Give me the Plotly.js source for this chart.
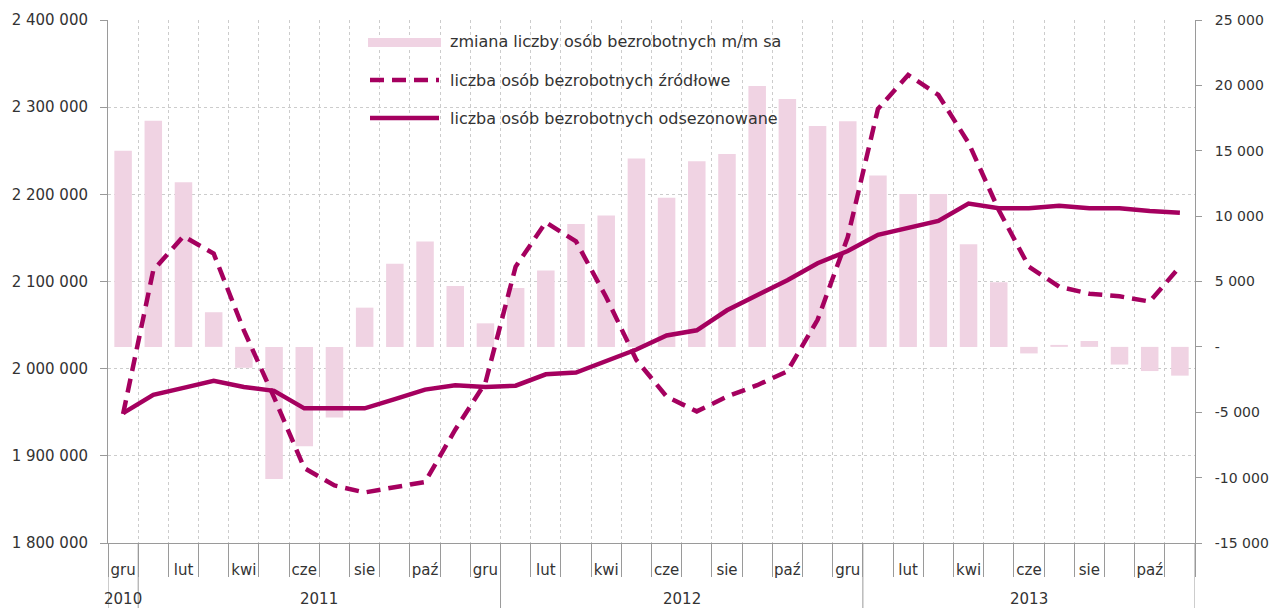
<!DOCTYPE html>
<html>
<head>
<meta charset="utf-8">
<script src="https://cdn.plot.ly/plotly-3.0.1.min.js"></script>
<style>html,body{margin:0;padding:0;background:#fff;}#chart{width:1273px;height:608px;}</style>
</head>
<body>
<div id="chart"></div>
<script>
// ---- DATA ----
var months = ['gru','sty','lut','mar','kwi','maj','cze','lip','sie','wrz','paź','lis',
              'gru','sty','lut','mar','kwi','maj','cze','lip','sie','wrz','paź','lis',
              'gru','sty','lut','mar','kwi','maj','cze','lip','sie','wrz','paź','lis'];
var years = [2010,2011,2011,2011,2011,2011,2011,2011,2011,2011,2011,2011,
             2011,2012,2012,2012,2012,2012,2012,2012,2012,2012,2012,2012,
             2012,2013,2013,2013,2013,2013,2013,2013,2013,2013,2013,2013];
var changeMoM = [15000,17300,12600,2650,-1600,-10100,-7600,-5400,3000,6350,8050,4650,
                 1800,4500,5850,9400,10050,14400,11400,14200,14750,19950,18950,16900,
                 17250,13100,11700,11700,7850,4950,-500,150,450,-1350,-1850,-2200];
var unemployedRaw = [1948000,2113000,2152000,2132000,2044000,1967000,1886000,1866000,1858000,1864000,1870000,1930000,
                     1984000,2117000,2168000,2146000,2082000,2010000,1968000,1951000,1968000,1981000,1997000,2056000,
                     2151000,2298000,2337000,2314000,2259000,2182000,2117000,2094000,2086000,2083000,2077000,2117000];
var unemployedSA = [1949000,1970000,1978000,1986000,1979000,1974500,1954500,1954500,1954500,1965000,1976000,1981000,
                    1979000,1980500,1993500,1995500,2009000,2022000,2038000,2044000,2067000,2084000,2101500,2121000,
                    2135000,2153500,2161500,2169500,2189500,2184000,2184000,2187000,2184000,2184000,2181000,2179000];
var seriesNames = ['zmiana liczby osób bezrobotnych m/m sa',
                   'liczba osób bezrobotnych źródłowe',
                   'liczba osób bezrobotnych odsezonowane'];
var leftTicks = [1800000,1900000,2000000,2100000,2200000,2300000,2400000];
var leftTickText = ['1 800 000','1 900 000','2 000 000','2 100 000','2 200 000','2 300 000','2 400 000'];
var rightTicks = [-15000,-10000,-5000,0,5000,10000,15000,20000,25000];
var rightTickText = ['-15 000','-10 000','-5 000','-','5 000','10 000','15 000','20 000','25 000'];

// ---- BUILD ----
var idx = months.map(function(_, i){ return i; });
var lineColor = '#A5005F';
var barColor = '#F0D3E3';
var axisColor = '#9a9a9a';
var gridColor = '#cccccc';
var textColor = '#333333';
var font = {family: 'DejaVu Sans, Verdana, sans-serif', size: 15, color: textColor};
var rightFont = {family: 'DejaVu Sans, Verdana, sans-serif', size: 14, color: textColor};
var legendFont = {family: 'DejaVu Sans, Verdana, sans-serif', size: 16, color: textColor};

var traces = [
  {type:'bar', x: idx, y: changeMoM, name: seriesNames[0], marker:{color: barColor}, width: 0.58,
   xaxis:'x', yaxis:'y', hoverinfo:'skip'},
  {type:'scatter', mode:'lines', x: idx, y: unemployedRaw, name: seriesNames[1],
   line:{color: lineColor, width: 4.5, dash:'14px,8px'}, xaxis:'x', yaxis:'y2'},
  {type:'scatter', mode:'lines', x: idx, y: unemployedSA, name: seriesNames[2],
   line:{color: lineColor, width: 4.5}, xaxis:'x', yaxis:'y2'}
];

// month labels every other month
var labVals = [], labText = [];
idx.forEach(function(i){ if (i % 2 === 0) { labVals.push(i); labText.push(months[i]); } });

// year groups
var yearGroups = [];
years.forEach(function(y, i){
  var g = yearGroups[yearGroups.length-1];
  if (!g || g.year !== y) { yearGroups.push({year:y, first:i, last:i}); }
  else g.last = i;
});

var plotH = 608 - 20 - 65;
var bottomDepth = -65 / plotH;

var shapes = [];
var annotations = [];
yearGroups.forEach(function(g, k){
  shapes.push({type:'line', xref:'x', yref:'paper', x0: g.first - 0.5, x1: g.first - 0.5,
               y0: 0, y1: bottomDepth, line:{color: axisColor, width: 1}});
  if (k === yearGroups.length - 1) {
    shapes.push({type:'line', xref:'x', yref:'paper', x0: g.last + 0.5, x1: g.last + 0.5,
                 y0: 0, y1: bottomDepth, line:{color: axisColor, width: 1}});
  }
  annotations.push({xref:'x', yref:'paper', x: (g.first + g.last) / 2, y: -(599 - 543) / plotH,
                    text: String(g.year), showarrow:false, font: font, xanchor:'center', yanchor:'middle'});
});

// manual legend
var plotW = 1195 - 108;
function px(x){ return (x - 108) / plotW; }
function py(y){ return 1 - (y - 20) / plotH; }
var legRows = [42, 80, 118];
shapes.push({type:'rect', xref:'paper', yref:'paper', x0: px(368), x1: px(441), y0: py(47), y1: py(38),
             fillcolor: barColor, line:{width:0}});
shapes.push({type:'line', xref:'paper', yref:'paper', x0: px(370), x1: px(439), y0: py(legRows[1]), y1: py(legRows[1]),
             line:{color: lineColor, width: 4.5, dash:'14px,8px'}});
shapes.push({type:'line', xref:'paper', yref:'paper', x0: px(370), x1: px(439), y0: py(legRows[2]), y1: py(legRows[2]),
             line:{color: lineColor, width: 4.5}});
seriesNames.forEach(function(n, k){
  annotations.push({xref:'paper', yref:'paper', x: px(448), y: py(legRows[k]), text: n, showarrow:false,
                    font: legendFont, xanchor:'left', yanchor:'middle'});
});

var layout = {
  width: 1273, height: 608,
  margin: {l:108, r:78, t:20, b:65},
  paper_bgcolor:'#fff', plot_bgcolor:'#fff',
  font: font,
  showlegend: false,
  bargap: 0.4,
  xaxis: {
    range: [-0.5, months.length - 0.5], tickmode:'array', tickvals: labVals, ticktext: labText,
    ticks:'outside', ticklen: 13, tickcolor:'rgba(0,0,0,0)', showgrid:false, zeroline:false,
    showline:true, linecolor: axisColor, linewidth:1, fixedrange:true, tickfont: font,
    minor: {tick0: -0.5, dtick: 1, ticks:'outside', ticklen: 33, tickcolor: axisColor, tickwidth: 1,
            showgrid:true, gridcolor: gridColor, griddash:'dot', gridwidth: 1}
  },
  yaxis: {
    side:'right', range:[-15000, 25000], tickmode:'array', tickvals: rightTicks, ticktext: rightTickText,
    ticks:'outside', ticklen: 6, tickcolor: axisColor, showline:true, linecolor: axisColor, linewidth: 1,
    showgrid:false, zeroline:false, ticklabelstandoff: 10, tickfont: rightFont
  },
  yaxis2: {
    overlaying:'y', side:'left', range:[1800000, 2400000], tickmode:'array', tickvals: leftTicks, ticktext: leftTickText,
    ticks:'outside', ticklen: 7, tickcolor: axisColor, showline:true, linecolor: axisColor, linewidth: 1,
    showgrid:true, gridcolor: gridColor, griddash:'dot', gridwidth: 1, zeroline:false, tickfont: font,
    ticklabelstandoff: 9
  },
  shapes: shapes,
  annotations: annotations
};

Plotly.newPlot('chart', traces, layout, {displayModeBar:false, staticPlot:true});
</script>
</body>
</html>
